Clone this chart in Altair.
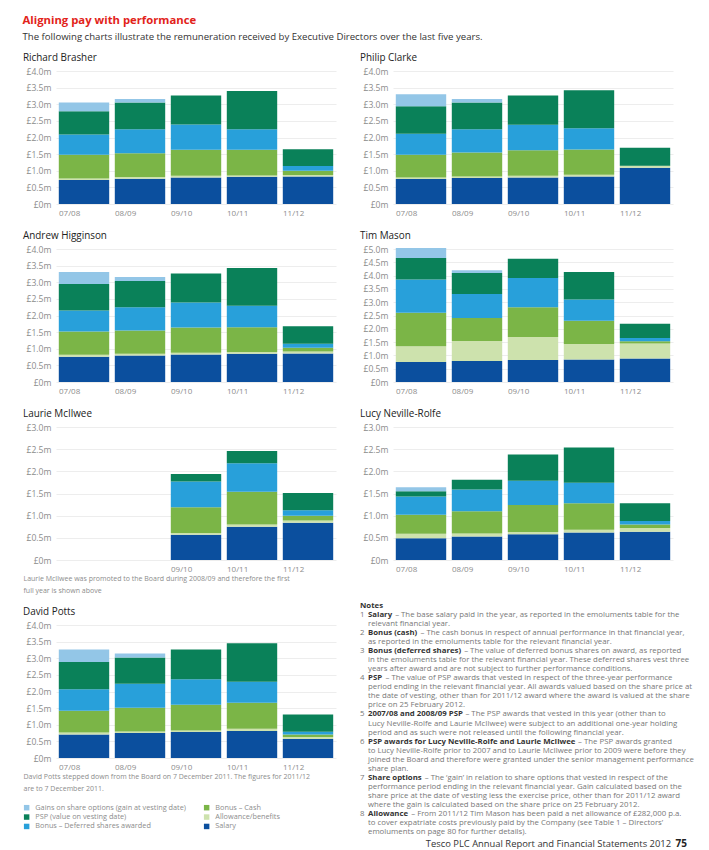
import altair as alt
import pandas as pd

FONT = "Open Sans"

# ---------------- data ----------------
years = ["07/08", "08/09", "09/10", "10/11", "11/12"]
mcilwee_years = ["09/10", "10/11", "11/12"]

components = [
    "Salary",
    "Allowance/benefits",
    "Bonus – Cash",
    "Bonus – Deferred shares awarded",
    "PSP (value on vesting date)",
    "Gains on share options (gain at vesting date)",
]
component_colours = ["#0b4f9e", "#cde2ad", "#7bb547", "#28a0da", "#0a8159", "#93c6e7"]

# legend is filled column by column in two columns
legend_order = [components[5], components[4], components[3],
                components[2], components[1], components[0]]

ticks_3 = [0, 0.5, 1.0, 1.5, 2.0, 2.5, 3.0]
ticks_4 = [0, 0.5, 1.0, 1.5, 2.0, 2.5, 3.0, 3.5, 4.0]
ticks_5 = [0, 0.5, 1.0, 1.5, 2.0, 2.5, 3.0, 3.5, 4.0, 4.5, 5.0]

# values in £m, per component, per year
brasher_salary = [0.72, 0.76, 0.80, 0.82, 0.83]
brasher_allowance = [0.05, 0.05, 0.05, 0.04, 0.04]
brasher_cash = [0.71, 0.72, 0.78, 0.77, 0.13]
brasher_deferred = [0.61, 0.72, 0.76, 0.62, 0.14]
brasher_psp = [0.70, 0.80, 0.87, 1.15, 0.51]
brasher_gains = [0.26, 0.11, 0.0, 0.0, 0.0]

clarke_salary = [0.75, 0.78, 0.80, 0.83, 1.09]
clarke_allowance = [0.05, 0.05, 0.05, 0.05, 0.05]
clarke_cash = [0.68, 0.72, 0.77, 0.76, 0.01]
clarke_deferred = [0.63, 0.70, 0.76, 0.64, 0.0]
clarke_psp = [0.83, 0.80, 0.88, 1.14, 0.54]
clarke_gains = [0.36, 0.11, 0.0, 0.0, 0.0]

higginson_salary = [0.76, 0.80, 0.83, 0.85, 0.86]
higginson_allowance = [0.06, 0.05, 0.05, 0.05, 0.06]
higginson_cash = [0.70, 0.70, 0.76, 0.75, 0.11]
higginson_deferred = [0.63, 0.70, 0.75, 0.64, 0.12]
higginson_psp = [0.80, 0.79, 0.87, 1.14, 0.53]
higginson_gains = [0.36, 0.12, 0.0, 0.0, 0.0]

mason_salary = [0.75, 0.79, 0.83, 0.85, 0.88]
mason_allowance = [0.59, 0.75, 0.86, 0.58, 0.57]
mason_cash = [1.26, 0.87, 1.12, 0.87, 0.08]
mason_deferred = [1.25, 0.90, 1.10, 0.80, 0.12]
mason_psp = [0.81, 0.79, 0.72, 1.04, 0.54]
mason_gains = [0.38, 0.10, 0.0, 0.0, 0.0]

mcilwee_salary = [0.57, 0.75, 0.84]
mcilwee_allowance = [0.04, 0.05, 0.05]
mcilwee_cash = [0.58, 0.74, 0.11]
mcilwee_deferred = [0.58, 0.64, 0.12]
mcilwee_psp = [0.17, 0.28, 0.39]
mcilwee_gains = [0.0, 0.0, 0.0]

nevillerolfe_salary = [0.49, 0.53, 0.58, 0.62, 0.64]
nevillerolfe_allowance = [0.10, 0.07, 0.05, 0.06, 0.08]
nevillerolfe_cash = [0.43, 0.50, 0.61, 0.60, 0.08]
nevillerolfe_deferred = [0.41, 0.49, 0.55, 0.46, 0.08]
nevillerolfe_psp = [0.12, 0.22, 0.59, 0.80, 0.40]
nevillerolfe_gains = [0.09, 0.0, 0.0, 0.0, 0.0]

potts_salary = [0.71, 0.75, 0.78, 0.81, 0.57]
potts_allowance = [0.06, 0.05, 0.05, 0.07, 0.06]
potts_cash = [0.65, 0.71, 0.77, 0.78, 0.08]
potts_deferred = [0.65, 0.72, 0.77, 0.63, 0.08]
potts_psp = [0.82, 0.79, 0.89, 1.16, 0.52]
potts_gains = [0.37, 0.12, 0.0, 0.0, 0.0]

mcilwee_note = ["Laurie McIlwee was promoted to the Board during 2008/09 and therefore the first",
                "full year is shown above"]
potts_note = ["David Potts stepped down from the Board on 7 December 2011. The figures for 2011/12",
              "are to 7 December 2011."]

notes_numbers = ["1", "", "2", "", "3", "", "", "4", "", "", "", "5", "", "", "6", "", "", "", "7", "", "", "", "8", "", ""]
notes_bold = ["Salary", "", "Bonus (cash)", "", "Bonus (deferred shares)", "", "",
              "PSP", "", "", "", "2007/08 and 2008/09 PSP", "", "",
              "PSP awards for Lucy Neville-Rolfe and Laurie McIlwee", "", "", "",
              "Share options", "", "", "", "Allowance", "", ""]
notes_text = [
    "– The base salary paid in the year, as reported in the emoluments table for the",
    "relevant financial year.",
    "– The cash bonus in respect of annual performance in that financial year,",
    "as reported in the emoluments table for the relevant financial year.",
    "– The value of deferred bonus shares on award, as reported",
    "in the emoluments table for the relevant financial year. These deferred shares vest three",
    "years after award and are not subject to further performance conditions.",
    "– The value of PSP awards that vested in respect of the three-year performance",
    "period ending in the relevant financial year. All awards valued based on the share price at",
    "the date of vesting, other than for 2011/12 award where the award is valued at the share",
    "price on 25 February 2012.",
    "– The PSP awards that vested in this year (other than to",
    "Lucy Neville-Rolfe and Laurie McIlwee) were subject to an additional one-year holding",
    "period and as such were not released until the following financial year.",
    "– The PSP awards granted",
    "to Lucy Neville-Rolfe prior to 2007 and to Laurie McIlwee prior to 2009 were before they",
    "joined the Board and therefore were granted under the senior management performance",
    "share plan.",
    "– The ‘gain’ in relation to share options that vested in respect of the",
    "performance period ending in the relevant financial year. Gain calculated based on the",
    "share price at the date of vesting less the exercise price, other than for 2011/12 award",
    "where the gain is calculated based on the share price on 25 February 2012.",
    "– From 2011/12 Tim Mason has been paid a net allowance of £282,000 p.a.",
    "to cover expatriate costs previously paid by the Company (see Table 1 – Directors’",
    "emoluments on page 80 for further details).",
]

# ---------------- styling ----------------
GREY = "#8c8c8c"
PANEL_W = 280
PANEL_H = 133
Y_EXT = 33


def panel(name, series, ymax, ticks, data_years=years, footnote=None, legend=False):
    rows = []
    for ci, (comp, vals) in enumerate(zip(components, series)):
        for yr, v in zip(data_years, vals):
            rows.append({"year": yr, "component": comp, "value": v, "order": ci})
    df = pd.DataFrame(rows)

    xaxis_kw = dict(labelAlign="left", labelOffset=-25, labelPadding=5,
                    labelFontSize=8, labelColor=GREY, labelFont=FONT, ticks=False,
                    domain=False, grid=False, minExtent=14, maxExtent=14, labelAngle=0,
                    values=data_years)
    if footnote:
        xaxis_kw.update(title=footnote, titleAnchor="start", titleAlign="left",
                        titleBaseline="top", titleX=-Y_EXT, titleY=14, titleFontSize=7,
                        titleFontWeight="normal", titleColor=GREY, titleLineHeight=12,
                        titleFont=FONT)
    else:
        xaxis_kw["title"] = None

    if legend:
        leg = alt.Legend(title=None, orient="none", legendX=-Y_EXT, legendY=179, columns=2,
                         symbolType="square", symbolSize=30, symbolStrokeWidth=0,
                         labelFontSize=7.3, labelColor=GREY, labelFont=FONT,
                         rowPadding=1.4, columnPadding=17, labelOffset=5, labelLimit=300)
    else:
        leg = None

    colour = alt.Color(
        "component:N",
        scale=alt.Scale(domain=legend_order,
                        range=[component_colours[components.index(c)] for c in legend_order]),
        legend=leg,
    )

    return alt.Chart(
        df,
        title=alt.TitleParams(name, anchor="start", frame="bounds", fontSize=9.9,
                              fontWeight=500, color="#222222", font=FONT, offset=4),
    ).mark_bar().encode(
        x=alt.X("year:N",
                scale=alt.Scale(domain=years, paddingInner=0.1, paddingOuter=0.05),
                axis=alt.Axis(**xaxis_kw)),
        y=alt.Y("value:Q", stack="zero",
                scale=alt.Scale(domain=[0, ymax], nice=False),
                axis=alt.Axis(values=ticks, title=None, ticks=False, domain=False,
                              labelExpr="datum.value == 0 ? '£0m' : '£' + format(datum.value, '.1f') + 'm'",
                              labelFontSize=8.6, labelColor=GREY, labelFont=FONT,
                              labelPadding=5, minExtent=Y_EXT, maxExtent=Y_EXT,
                              grid=True, gridColor="#e9e9e9", gridWidth=0.8)),
        color=colour,
        order=alt.Order("order:Q", sort="ascending"),
    ).properties(width=PANEL_W, height=PANEL_H)


p_brasher = panel("Richard Brasher", [brasher_salary, brasher_allowance, brasher_cash,
                                      brasher_deferred, brasher_psp, brasher_gains], 4, ticks_4)
p_clarke = panel("Philip Clarke", [clarke_salary, clarke_allowance, clarke_cash,
                                   clarke_deferred, clarke_psp, clarke_gains], 4, ticks_4)
p_higginson = panel("Andrew Higginson", [higginson_salary, higginson_allowance, higginson_cash,
                                         higginson_deferred, higginson_psp, higginson_gains], 4, ticks_4)
p_mason = panel("Tim Mason", [mason_salary, mason_allowance, mason_cash,
                              mason_deferred, mason_psp, mason_gains], 5, ticks_5)
p_mcilwee = panel("Laurie McIlwee", [mcilwee_salary, mcilwee_allowance, mcilwee_cash,
                                     mcilwee_deferred, mcilwee_psp, mcilwee_gains], 3, ticks_3,
                  data_years=mcilwee_years, footnote=mcilwee_note)
p_nr = panel("Lucy Neville-Rolfe", [nevillerolfe_salary, nevillerolfe_allowance, nevillerolfe_cash,
                                    nevillerolfe_deferred, nevillerolfe_psp, nevillerolfe_gains], 3, ticks_3)
p_potts = panel("David Potts", [potts_salary, potts_allowance, potts_cash,
                                potts_deferred, potts_psp, potts_gains], 4, ticks_4,
                footnote=potts_note, legend=True)

# ---------------- notes block ----------------
NOTE_FS = 7.8
NOTES_W = 330
NOTES_H = 212
ROW = 9.04
TOP = -19

# approximate advance widths (em) of the bold face, used to place the text after a bold lead-in
BOLD_EM = {
    "a": .60, "b": .63, "c": .51, "d": .63, "e": .59, "f": .38, "g": .56, "h": .66, "i": .30,
    "j": .30, "k": .62, "l": .30, "m": .98, "n": .66, "o": .62, "p": .63, "q": .63, "r": .45,
    "s": .50, "t": .42, "u": .66, "v": .57, "w": .86, "x": .58, "y": .57, "z": .49,
    "A": .70, "B": .68, "C": .63, "D": .72, "E": .55, "F": .53, "G": .71, "H": .76, "I": .35,
    "L": .55, "M": .92, "N": .80, "O": .77, "P": .64, "R": .67, "S": .56, "T": .57,
    " ": .26, "(": .34, ")": .34, "/": .37, "-": .32,
}


def bold_width(s, fs):
    w = sum(BOLD_EM.get(ch, 0.57) for ch in s)
    return w * fs * 1.0 + 0.4 * fs


notes_rows = []
for i, (num, b, t) in enumerate(zip(notes_numbers, notes_bold, notes_text)):
    notes_rows.append({"row": i + 1, "num": num, "bold": b, "text": t,
                       "text_x": 8 + (bold_width(b, NOTE_FS) if b else 0)})
notes_df = pd.DataFrame(notes_rows)

yscale = alt.Scale(domain=[0, 26], range=[TOP, TOP + 26 * ROW])
xscale = alt.Scale(domain=[0, NOTES_W], range=[0, NOTES_W])
base = alt.Chart(notes_df).encode(y=alt.Y("row:Q", scale=yscale, axis=None))

notes_header = alt.Chart(pd.DataFrame({"row": [0], "t": ["Notes"]})).mark_text(
    align="left", baseline="middle", font=FONT, fontSize=7.8, fontWeight="bold", color="#333333"
).encode(x=alt.value(0), y=alt.Y("row:Q", scale=yscale, axis=None), text="t:N")

notes_num = base.mark_text(align="left", baseline="middle", font=FONT, fontSize=NOTE_FS,
                           color="#777777").encode(x=alt.value(0), text="num:N")
notes_b = base.mark_text(align="left", baseline="middle", font=FONT, fontSize=NOTE_FS,
                         fontWeight="bold", color="#333333").encode(x=alt.value(8), text="bold:N")
notes_t = base.mark_text(align="left", baseline="middle", font=FONT, fontSize=NOTE_FS,
                         color="#777777").encode(
    x=alt.X("text_x:Q", scale=xscale, axis=None), text="text:N")

footer_df = pd.DataFrame({"t": ["Tesco PLC Annual Report and Financial Statements 2012"], "p": ["75"]})
footer = alt.Chart(footer_df).mark_text(
    align="right", baseline="middle", font=FONT, fontSize=9.4, color="#333333"
).encode(x=alt.value(311), y=alt.value(219), text="t:N")
page = alt.Chart(footer_df).mark_text(
    align="right", baseline="middle", font=FONT, fontSize=10, fontWeight="bold", color="#222222"
).encode(x=alt.value(327), y=alt.value(219), text="p:N")

notes = alt.layer(notes_header, notes_num, notes_b, notes_t, footer, page).properties(
    width=NOTES_W, height=NOTES_H)

# ---------------- layout ----------------
row1 = alt.hconcat(p_brasher, p_clarke, spacing=22).resolve_scale(color="independent")
row2 = alt.hconcat(p_higginson, p_mason, spacing=22).resolve_scale(color="independent")
row3 = alt.hconcat(p_mcilwee, p_nr, spacing=22).resolve_scale(color="independent")
row4 = alt.hconcat(p_potts, notes, spacing=22).resolve_scale(color="independent")

upper = alt.vconcat(row1, row2, row3, spacing=11).resolve_scale(color="independent")

chart = alt.vconcat(
    upper, row4, spacing=7,
    title=alt.TitleParams(
        "Aligning pay with performance",
        subtitle="The following charts illustrate the remuneration received by Executive Directors over the last five years.",
        anchor="start", font=FONT, fontSize=11.3, fontWeight="bold", color="#e2231a",
        subtitleFont=FONT, subtitleFontSize=9.6, subtitleColor="#333333",
        subtitlePadding=6, offset=11,
    ),
).resolve_scale(color="independent").properties(
    padding={"left": 14, "top": 6, "right": 0, "bottom": 0}
).configure_view(stroke="transparent")

chart.save("out.html", embed_options={"renderer": "svg", "actions": False})
